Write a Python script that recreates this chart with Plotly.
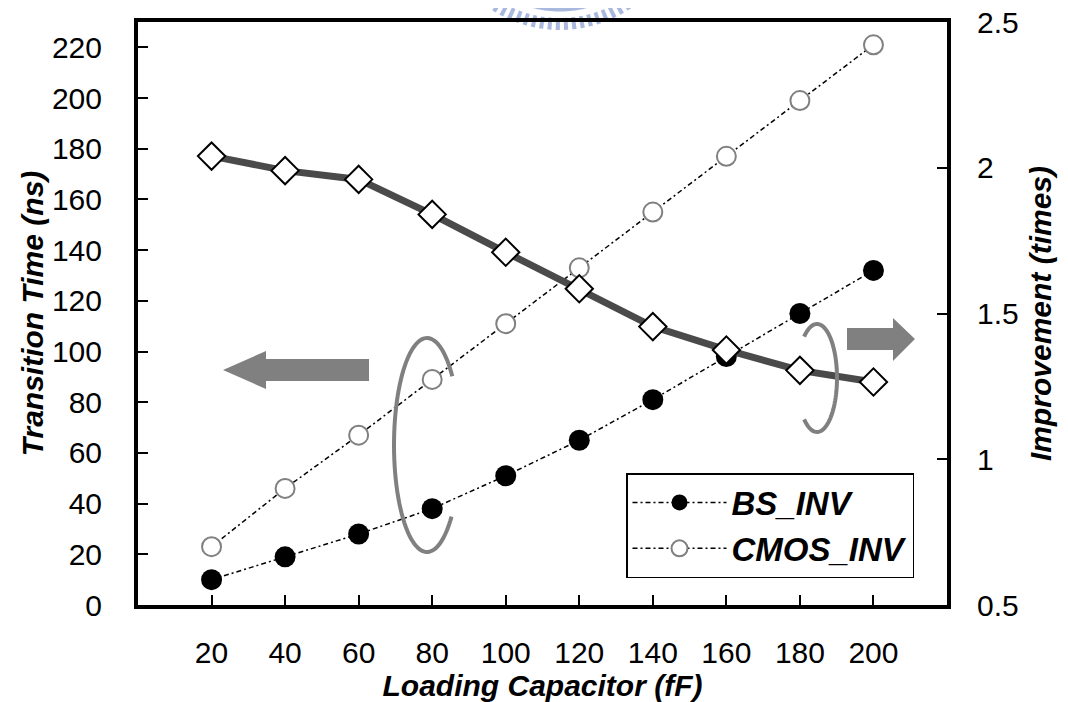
import numpy as np
import plotly.graph_objects as go

# ---- data ----
load_cap = [20, 40, 60, 80, 100, 120, 140, 160, 180, 200]
bs_inv = [10, 19, 28, 38, 51, 65, 81, 98, 115, 132]
cmos_inv = [23, 46, 67, 89, 111, 133, 155, 177, 199, 221]
improvement = [2.04, 1.99, 1.96, 1.84, 1.71, 1.585, 1.455, 1.375, 1.305, 1.265]
x_ticks = [20, 40, 60, 80, 100, 120, 140, 160, 180, 200]
y_ticks = [0, 20, 40, 60, 80, 100, 120, 140, 160, 180, 200, 220]
y2_ticks = [0.5, 1, 1.5, 2, 2.5]

W, H = 1068, 702
OFF = 8  # default page body margin
L, R, T, B = 138, 947, 22, 605
FONT = "Liberation Sans, Arial, sans-serif"
GRAY = "#808080"
LOGO = "#a9b8df"


def px(x, y):
    return (x - L) / (R - L), (B - y) / (B - T)


def poly_path(pts, close=True):
    s = ""
    for i, (x, y) in enumerate(pts):
        fx, fy = px(x, y)
        s += ("M" if i == 0 else "L") + f"{fx:.5f},{fy:.5f} "
    return s + ("Z" if close else "")


def arc_pts(cx, cy, rx, ry, t0, t1, n=80):
    t = np.radians(np.linspace(t0, t1, n))
    return list(zip(cx + rx * np.cos(t), cy - ry * np.sin(t)))


fig = go.Figure()

fig.add_trace(go.Scatter(
    x=load_cap, y=bs_inv, name="BS_INV", mode="lines+markers",
    line=dict(color="black", width=1.5, dash="5px,3px,2px,3px"),
    marker=dict(symbol="circle", size=21, color="black"),
))
fig.add_trace(go.Scatter(
    x=load_cap, y=cmos_inv, name="CMOS_INV", mode="lines+markers",
    line=dict(color="black", width=1.5, dash="5px,3px,2px,3px"),
    marker=dict(symbol="circle", size=19, color="white", line=dict(width=2, color=GRAY)),
))
fig.add_trace(go.Scatter(
    x=load_cap, y=improvement, name="Improvement", mode="lines+markers", yaxis="y2",
    showlegend=False,
    line=dict(color="#4a4a4a", width=7),
    marker=dict(symbol="diamond", size=21, color="white", line=dict(width=2, color="black")),
))

shapes = []
# watermark logo fragment at the top (decoration)
shapes.append(dict(type="path", xref="paper", yref="paper", layer="below",
                   line=dict(color=LOGO, width=12, dash="4px,4px"),
                   path=poly_path(arc_pts(560, -97, 121, 121, 215, 325, 120), close=False)))
shapes.append(dict(type="path", xref="paper", yref="paper", layer="below",
                   line=dict(color=LOGO, width=5),
                   path=poly_path(arc_pts(560, -97, 106, 106, 225, 315, 120), close=False)))
# left arrow
shapes.append(dict(type="path", xref="paper", yref="paper", fillcolor=GRAY, line=dict(width=0),
                   path=poly_path([(223, 370), (266, 351), (266, 359), (369, 359), (369, 381),
                                   (266, 381), (266, 389)])))
# right arrow
shapes.append(dict(type="path", xref="paper", yref="paper", fillcolor=GRAY, line=dict(width=0),
                   path=poly_path([(847, 328), (893, 328), (893, 318), (915, 339), (893, 361),
                                   (893, 350), (847, 350)])))
# left bracket ellipse
shapes.append(dict(type="path", xref="paper", yref="paper", line=dict(color=GRAY, width=4),
                   path=poly_path(arc_pts(427, 445, 33, 107, 40, 318), close=False)))
# right bracket ellipse
shapes.append(dict(type="path", xref="paper", yref="paper", line=dict(color=GRAY, width=4),
                   path=poly_path(arc_pts(817, 378, 20, 54, 130, -130), close=False)))

TITLE_FONT = dict(family=FONT, size=30, weight="bold", style="italic", color="black")

fig.update_layout(
    width=W - OFF, height=H - OFF,
    margin=dict(l=L - OFF, r=W - R, t=T - OFF, b=H - B, pad=0),
    paper_bgcolor="white", plot_bgcolor="rgba(0,0,0,0)",
    font=dict(family=FONT, size=30, color="black"),
    showlegend=True,
    legend=dict(x=px(626, 0)[0], y=px(0, 473)[1], xanchor="left", yanchor="top",
                bgcolor="white", bordercolor="black", borderwidth=1.5,
                font=dict(family=FONT, size=33, color="black", weight="bold", style="italic"),
                itemwidth=94, tracegroupgap=0),
    xaxis=dict(range=[0, 220], tickvals=x_ticks, ticktext=[str(v) for v in x_ticks],
               showgrid=False, zeroline=False, showline=True, linecolor="black", linewidth=4,
               mirror=True, ticks="inside", ticklen=10, tickwidth=1.5, tickcolor="black",
               ticklabelstandoff=18, automargin=False,
               title=dict(text="Loading Capacitor (fF)", standoff=0, font=TITLE_FONT)),
    yaxis=dict(range=[0, 230], tickvals=y_ticks, showgrid=False, zeroline=False,
               showline=True, linecolor="black", linewidth=4,
               ticks="inside", ticklen=10, tickwidth=1.5, tickcolor="black",
               ticklabelstandoff=26, automargin=False, ticklabeloverflow="allow",
               title=dict(text="Transition Time (ns)", standoff=0, font=TITLE_FONT)),
    yaxis2=dict(range=[0.5, 2.5], tickvals=y2_ticks, ticktext=["0.5", "1", "1.5", "2", "2.5"],
                overlaying="y", side="right", showgrid=False, zeroline=False,
                showline=True, linecolor="black", linewidth=4,
                ticks="inside", ticklen=10, tickwidth=1.5, tickcolor="black",
                ticklabelstandoff=20, automargin=False, ticklabeloverflow="allow",
                title=dict(text="Improvement (times)", standoff=13, font=TITLE_FONT)),
    shapes=shapes,
)

fig.write_html("out.html")
